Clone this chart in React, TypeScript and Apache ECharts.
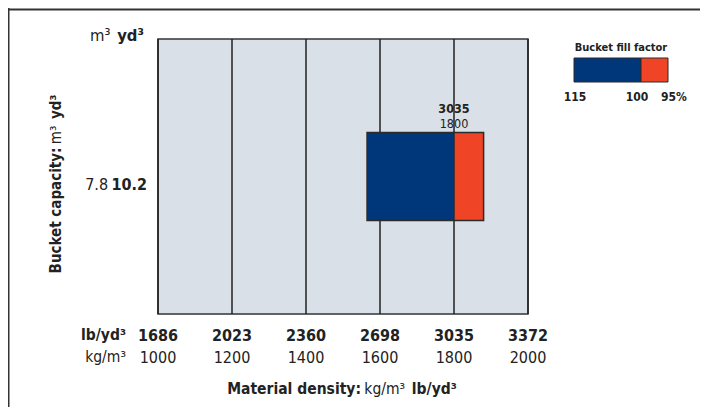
import React, { useEffect, useRef } from "react";
import * as echarts from "echarts";

// ---- data ----
const kgTicks = [1000, 1200, 1400, 1600, 1800, 2000];
const lbTicks = [1686, 2023, 2360, 2698, 3035, 3372];
const capacityM3 = ["7.8"];
const capacityYd3 = ["10.2"];
// bucket fill segments (kg/m3): 115% -> 100% (blue), 100% -> 95% (red)
const segStart = [1565, 1800];
const segEnd = [1800, 1880];
const annotationKg = [1800];
const annotationLb = [3035];
const fillFactorLabels = ["115", "100", "95%"];

const FONT = "'Liberation Sans Narrow', 'Arial Narrow', 'DejaVu Sans Condensed', sans-serif";
const TXT = "#222";
const BLUE = "#00377a";
const RED = "#ef4425";
const SEG_COLORS = [BLUE, RED];
const FS = 16;

export default function App() {
  const ref = useRef<HTMLDivElement>(null);
  useEffect(() => {
    if (!ref.current) return;
    const chart = echarts.init(ref.current, undefined, { renderer: "svg" });
    const option: any = {
      animation: false,
      textStyle: { fontFamily: FONT },
      grid: {
        left: 150,
        top: 31,
        width: 370,
        height: 275,
        show: true,
        backgroundColor: "#d9e0e8",
        borderColor: "#333",
        borderWidth: 1.5,
        containLabel: false,
      },
      xAxis: {
        type: "value",
        min: 1000,
        max: 2000,
        interval: 200,
        axisLine: { show: false },
        axisTick: { show: false },
        splitLine: { show: true, lineStyle: { color: "#222", width: 1.5 } },
        axisLabel: {
          margin: 10,
          formatter: (v: number) => {
            const i = kgTicks.indexOf(v);
            return `{b|${lbTicks[i]}}\n{r|${v}}`;
          },
          rich: {
            b: { fontFamily: FONT, fontSize: FS, fontWeight: "bold", color: TXT, lineHeight: 22 },
            r: { fontFamily: FONT, fontSize: FS, color: TXT, lineHeight: 22 },
          },
        },
      },
      yAxis: {
        type: "category",
        data: capacityM3,
        axisLine: { show: false },
        axisTick: { show: false },
        splitLine: { show: false },
        axisLabel: {
          margin: 11,
          padding: [16, 0, 0, 0],
          formatter: (v: string, i: number) => `{r|${v}} {b|${capacityYd3[i]}}`,
          rich: {
            b: { fontFamily: FONT, fontSize: FS, fontWeight: "bold", color: TXT },
            r: { fontFamily: FONT, fontSize: FS, color: TXT },
          },
        },
      },
      series: [
        {
          type: "custom",
          z: 3,
          encode: { x: [0, 1], y: 2 },
          data: segStart.map((s, i) => [s, segEnd[i], 0]),
          renderItem: (params: any, api: any) => {
            const y = api.value(2);
            const a = api.coord([api.value(0), y]);
            const b = api.coord([api.value(1), y]);
            const band = api.size([0, 1])[1];
            const h = band * 0.32;
            return {
              type: "rect",
              shape: { x: a[0], y: a[1] - h / 2, width: b[0] - a[0], height: h },
              style: { fill: SEG_COLORS[params.dataIndex], stroke: "#2b2b2b", lineWidth: 1.5 },
            };
          },
        },
        {
          type: "custom",
          z: 4,
          encode: { x: 0, y: 1 },
          data: annotationKg.map((k) => [k, 0]),
          renderItem: (params: any, api: any) => {
            const p = api.coord([api.value(0), api.value(1)]);
            const band = api.size([0, 1])[1];
            const h = band * 0.32;
            const i = params.dataIndex;
            return {
              type: "text",
              x: p[0],
              y: p[1] - h / 2 - 1.5,
              style: {
                text: `{b|${annotationLb[i]}}\n{r|${annotationKg[i]}}`,
                align: "center",
                verticalAlign: "bottom",
                rich: {
                  b: { fontFamily: FONT, fontSize: 12.5, fontWeight: "bold", fill: TXT, lineHeight: 15, align: "center" },
                  r: { fontFamily: FONT, fontSize: 12.5, fill: TXT, lineHeight: 15, align: "center" },
                },
              },
            };
          },
        },
      ],
      graphic: [
        // frame
        { type: "line", shape: { x1: 0, y1: 1.5, x2: 700, y2: 1.5 }, style: { stroke: "#333", lineWidth: 2 } },
        { type: "line", shape: { x1: 0.5, y1: 0, x2: 0.5, y2: 399 }, style: { stroke: "#333", lineWidth: 2 } },
        // top units for y
        {
          type: "text",
          x: 136,
          y: 27,
          style: {
            text: "{r|m³}  {b|yd³}",
            align: "right",
            verticalAlign: "middle",
            rich: {
              r: { fontFamily: FONT, fontSize: 16.5, fill: TXT },
              b: { fontFamily: FONT, fontSize: 16.5, fontWeight: "bold", fill: TXT },
            },
          },
        },
        // y title
        {
          type: "text",
          x: 48,
          y: 176,
          rotation: Math.PI / 2,
          style: {
            text: "{b|Bucket capacity:} {r|m³}  {b|yd³}",
            align: "center",
            verticalAlign: "middle",
            rich: {
              r: { fontFamily: FONT, fontSize: 15, fill: TXT },
              b: { fontFamily: FONT, fontSize: 15, fontWeight: "bold", fill: TXT },
            },
          },
        },
        // x row labels
        {
          type: "text",
          x: 118,
          y: 327,
          style: { text: "lb/yd³", align: "right", verticalAlign: "middle", font: `bold 15.5px ${FONT}`, fill: TXT },
        },
        {
          type: "text",
          x: 118,
          y: 349,
          style: { text: "kg/m³", align: "right", verticalAlign: "middle", font: `15.5px ${FONT}`, fill: TXT },
        },
        // x title
        {
          type: "text",
          x: 334,
          y: 381,
          style: {
            text: "{b|Material density:} {r|kg/m³}  {b|lb/yd³}",
            align: "center",
            verticalAlign: "middle",
            rich: {
              r: { fontFamily: FONT, fontSize: 15.5, fill: TXT },
              b: { fontFamily: FONT, fontSize: 15.5, fontWeight: "bold", fill: TXT },
            },
          },
        },
        // legend
        {
          type: "text",
          x: 613,
          y: 39,
          style: { text: "Bucket fill factor", align: "center", verticalAlign: "middle", font: `bold 11px ${FONT}`, fill: TXT },
        },
        { type: "rect", shape: { x: 566, y: 50, width: 67, height: 24 }, style: { fill: BLUE, stroke: "#2b2b2b", lineWidth: 1 } },
        { type: "rect", shape: { x: 633, y: 50, width: 27, height: 24 }, style: { fill: RED, stroke: "#2b2b2b", lineWidth: 1 } },
        {
          type: "text", x: 567, y: 89,
          style: { text: fillFactorLabels[0], align: "center", verticalAlign: "middle", font: `bold 12px ${FONT}`, fill: TXT },
        },
        {
          type: "text", x: 629, y: 89,
          style: { text: fillFactorLabels[1], align: "center", verticalAlign: "middle", font: `bold 12px ${FONT}`, fill: TXT },
        },
        {
          type: "text", x: 666, y: 89,
          style: { text: fillFactorLabels[2], align: "center", verticalAlign: "middle", font: `bold 12px ${FONT}`, fill: TXT },
        },
      ],
    };
    chart.setOption(option);
    return () => chart.dispose();
  }, []);
  return <div ref={ref} style={{ width: 700, height: 399 }} />;
}
